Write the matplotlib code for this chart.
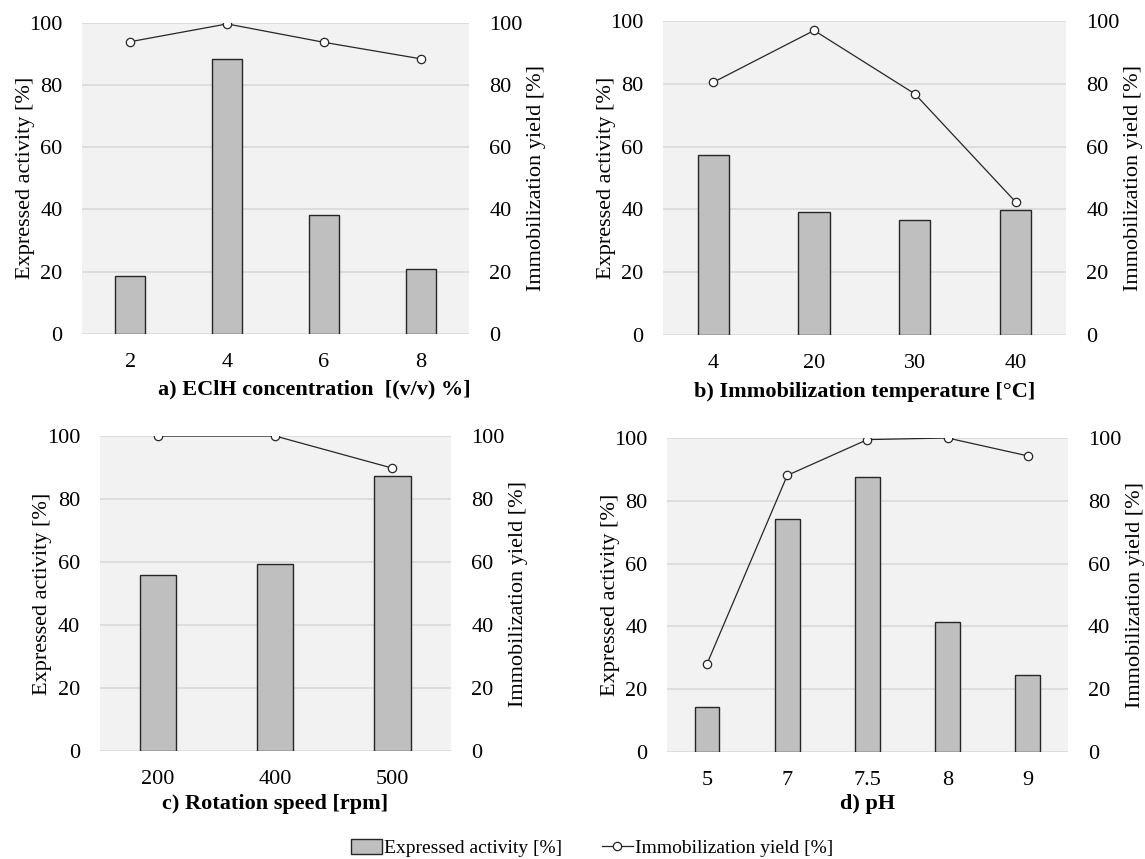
import matplotlib
matplotlib.use('Agg')
import matplotlib.pyplot as plt
import numpy as np

# a) ECLH concentration
conc_labels = ['2', '4', '6', '8']
conc_activity = [18.6, 88.4, 38.3, 20.8]
conc_yield = [93.9, 99.6, 93.7, 88.4]

# b) temperature
temp_labels = ['4', '20', '30', '40']
temp_activity = [57.4, 39.2, 36.5, 39.9]
temp_yield = [80.5, 97.0, 76.8, 42.4]

# c) rotation speed
rpm_labels = ['200', '400', '500']
rpm_activity = [55.9, 59.3, 87.4]
rpm_yield = [100.0, 100.0, 89.8]

# d) pH
ph_labels = ['5', '7', '7.5', '8', '9']
ph_activity = [14.4, 74.3, 87.5, 41.3, 24.6]
ph_yield = [28.1, 88.1, 99.5, 100.0, 94.3]

plt.rcParams['font.family'] = ['Liberation Serif', 'DejaVu Serif']
plt.rcParams['font.size'] = 16

fig = plt.figure(figsize=(11.45, 8.59), dpi=100)

# rect, labels, bars, line, x title, title x pos, title y pos
panels = [
    ([0.0716, 0.6112, 0.3380, 0.3624], conc_labels, conc_activity, conc_yield,
     'a) EClH concentration  [(v/v) %]', 0.60, -0.145),
    ([0.5790, 0.6100, 0.3520, 0.3655], temp_labels, temp_activity, temp_yield,
     'b) Immobilization temperature [°C]', 0.5, -0.15),
    ([0.0869, 0.1257, 0.3070, 0.3667], rpm_labels, rpm_activity, rpm_yield,
     'c) Rotation speed [rpm]', 0.5, -0.135),
    ([0.5825, 0.1246, 0.3502, 0.3655], ph_labels, ph_activity, ph_yield,
     'd) pH', 0.5, -0.135),
]

for rect, labels, activity, yld, title, lx, ly in panels:
    ax = fig.add_axes(rect)
    x = np.arange(len(labels))
    ax.set_facecolor('#f2f2f2')
    ax.set_axisbelow(True)
    ax.yaxis.grid(True, color='#d9d9d9', lw=1.2)
    bars = ax.bar(x, activity, width=0.31, color='#bfbfbf', edgecolor='#262626',
                  lw=1.0, label='Expressed activity [%]', zorder=2)
    ax.set_ylim(0, 100)
    ax.set_xlim(-0.5, len(labels) - 0.5)
    ax.set_yticks(range(0, 101, 20))
    ax.set_xticks(x)
    ax.set_xticklabels(labels)
    ax.tick_params(axis='x', length=0, pad=14)
    ax.tick_params(axis='y', length=0, pad=14)
    for s in ax.spines.values():
        s.set_visible(False)
    ax.set_ylabel('Expressed activity [%]', labelpad=-4)
    ax.set_xlabel(title, fontweight='bold')
    ax.xaxis.set_label_coords(lx, ly)

    ax2 = ax.twinx()
    line, = ax2.plot(x, yld, color='#262626', lw=0.9, marker='o', ms=6,
                     mfc='white', mec='#262626', mew=0.9,
                     label='Immobilization yield [%]', zorder=3)
    ax2.set_ylim(0, 100)
    ax2.set_yticks(range(0, 101, 20))
    ax2.tick_params(length=0, pad=14.5)
    for s in ax2.spines.values():
        s.set_visible(False)
    ax2.set_ylabel('Immobilization yield [%]', labelpad=3)

fig.legend([bars, line], ['Expressed activity [%]', 'Immobilization yield [%]'],
           loc='center', bbox_to_anchor=(0.5175, 0.0128), ncol=2, frameon=False,
           fontsize=14, handlelength=1.55, handleheight=0.8,
           columnspacing=2.05, handletextpad=0.15)

fig.savefig('out.png', dpi=100)
